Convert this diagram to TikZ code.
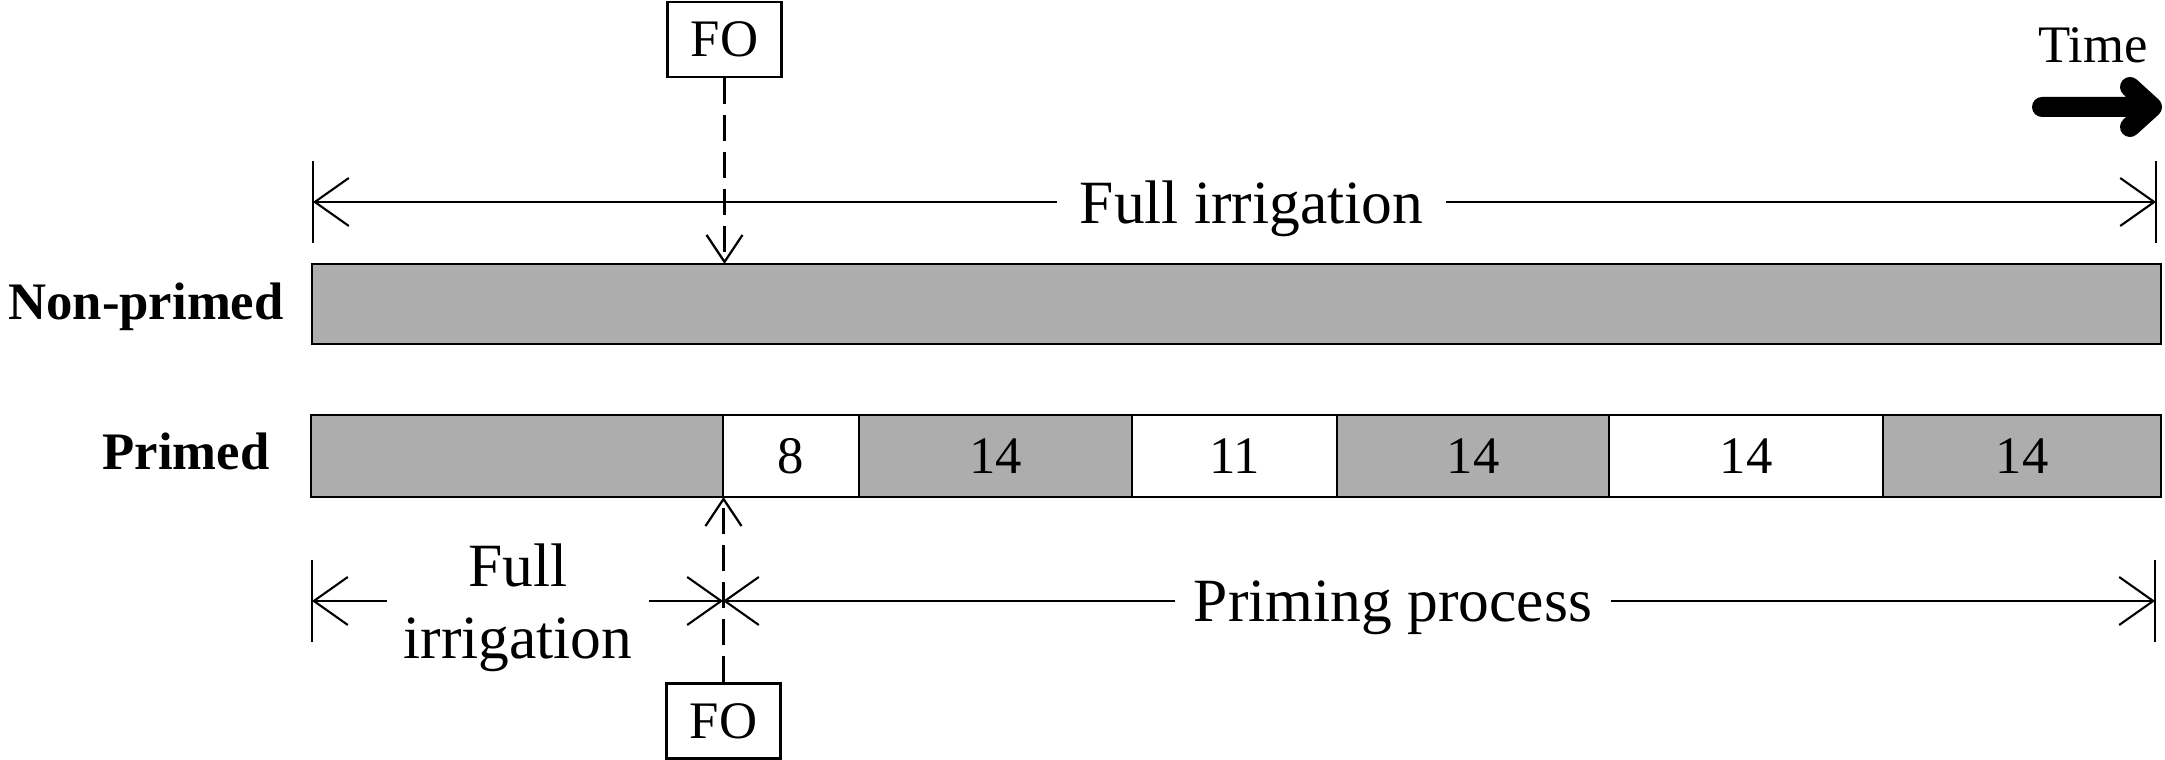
\documentclass[tikz,border=0pt]{standalone}
\usepackage{fontspec}
\setmainfont{Liberation Serif}
\usetikzlibrary{arrows.meta,positioning}
\definecolor{barfill}{RGB}{173,173,173}

\begin{document}
\begin{tikzpicture}[
	bar/.style={draw, line width=0.75pt, inner sep=0pt, outer sep=0pt, minimum height=0.82cm, anchor=west, font=\fontsize{15}{17}\selectfont},
	dim/.style={line width=0.6pt, -{Straight Barb[length=3.4mm, width=4.8mm]}},
	tick/.style={line width=0.6pt},
	fobox/.style={draw, line width=0.7pt, minimum width=1.14cm, minimum height=0.75cm, inner sep=0pt, font=\fontsize{15}{17}\selectfont},
	foline/.style={line width=0.65pt, dash pattern=on 2.6mm off 1.1mm, -{Straight Barb[length=2.7mm, width=3.6mm]}},
	big/.style={font=\fontsize{17.5}{20.5}\selectfont, inner ysep=0pt, text depth=0pt},
	rowlabel/.style={font=\bfseries\fontsize{15}{17}\selectfont, anchor=base},
]
	\useasboundingbox (0,0) rectangle (21.65,7.60);

	% time arrow
	\node[font=\fontsize{15}{17}\selectfont, anchor=base] (timelbl) at (20.93,6.97) {Time};
	\coordinate (tstart) at (20.42,6.53);
	\coordinate (tend) at (21.52,6.53);
	\draw[line width=0.2cm, line cap=round, line join=round] (tstart) -- (tend) ++(-0.22,0.20) -- (tend) -- ++(-0.22,-0.20);

	% non-primed
	\node[rowlabel] (nplbl) at (1.46,4.40) {Non-primed};
	\node[bar, fill=barfill, minimum width=18.49cm, minimum height=0.80cm] (np) at (3.12,4.56) {};

	% primed
	\node[rowlabel] (plbl) at (1.86,2.90) {Primed};
	\node[bar, fill=barfill, minimum width=4.12cm] (p0) at (3.11,3.04) {};
	\node[bar, fill=white, minimum width=1.36cm, right=0pt of p0] (p1) {8};
	\node[bar, fill=barfill, minimum width=2.73cm, right=0pt of p1] (p2) {14};
	\node[bar, fill=white, minimum width=2.05cm, right=0pt of p2] (p3) {11};
	\node[bar, fill=barfill, minimum width=2.72cm, right=0pt of p3] (p4) {14};
	\node[bar, fill=white, minimum width=2.74cm, right=0pt of p4] (p5) {14};
	\node[bar, fill=barfill, minimum width=2.78cm, right=0pt of p5] (p6) {14};

	% full irrigation (top)
	\coordinate (tl) at (3.13,5.58);
	\coordinate (tr) at (21.56,5.58);
	\draw[tick] (tl) ++(0,-0.41) -- ++(0,0.82);
	\draw[tick] (tr) ++(0,-0.41) -- ++(0,0.82);
	\node[big, inner xsep=0.22cm] (fulltop) at (12.515,5.58) {Full irrigation};
	\draw[dim] (fulltop.west) -- (tl);
	\draw[dim] (fulltop.east) -- (tr);

	% FO (top)
	\node[fobox] (fotop) at (7.245,7.205) {FO};
	\draw[foline] (fotop.south) -- (fotop.south |- np.north);

	% full irrigation / priming process (bottom)
	\coordinate (bl) at (3.12,1.59);
	\coordinate (bm) at (7.23,1.59);
	\coordinate (br) at (21.55,1.59);
	\draw[tick] (bl) ++(0,-0.41) -- ++(0,0.82);
	\draw[tick] (br) ++(0,-0.41) -- ++(0,0.82);
	\node[big, align=center, inner xsep=0.16cm] (fullbot) at (5.18,1.59) {Full\\irrigation};
	\draw[dim] (fullbot.west) -- (bl);
	\draw[dim] (fullbot.east) -- (bm);
	\node[big, inner xsep=0.18cm] (priming) at (13.93,1.59) {Priming process};
	\draw[dim] (priming.west) -- (bm);
	\draw[dim] (priming.east) -- (br);

	% FO (bottom)
	\node[fobox] (fobot) at (7.235,0.39) {FO};
	\draw[foline] (fobot.north) -- (fobot.north |- p0.south);
\end{tikzpicture}
\end{document}
